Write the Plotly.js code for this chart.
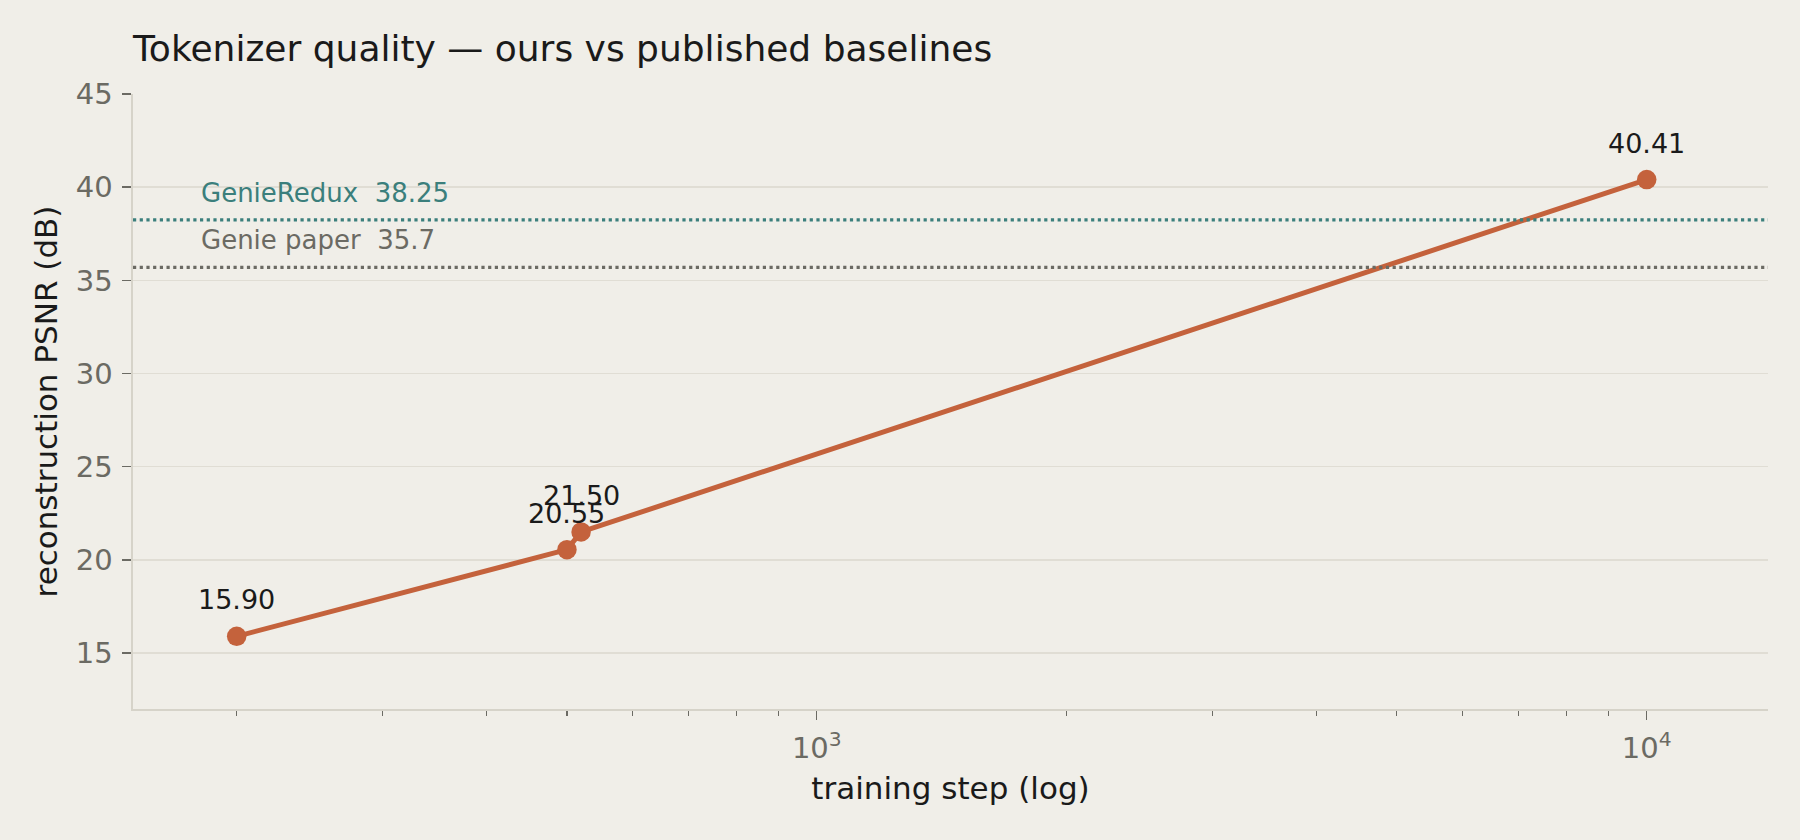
<!DOCTYPE html>
<html>
<head>
<meta charset="utf-8">
<script src="https://cdn.plot.ly/plotly-3.0.1.min.js"></script>
<style>
  html, body { margin: 0; padding: 0; background: #f0eee8; }
  #chart { width: 1800px; height: 840px; }
</style>
</head>
<body>
<div id="chart"></div>
<script>
// tokenizer reconstruction PSNR over training
var steps = [200, 500, 520, 10000];
var psnr = [15.90, 20.55, 21.50, 40.41];

// published reference numbers
var baseNames = ['GenieRedux', 'Genie paper'];
var baseValues = [38.25, 35.7];
var baseColors = ['#3b7f7c', '#6b6a63'];
var baseLabelX = 180;

var xTickVals = [1000, 10000];
var xTickText = ['10<sup>3</sup>', '10<sup>4</sup>'];
var xMinorVals = [200, 300, 400, 500, 600, 700, 800, 900,
                  2000, 3000, 4000, 5000, 6000, 7000, 8000, 9000];
var yTickVals = [15, 20, 25, 30, 35, 40, 45];

var ink = '#1a1a1a';
var muted = '#6b6a63';
var bg = '#f0eee8';

var trace = {
  x: steps,
  y: psnr,
  type: 'scatter',
  mode: 'lines+markers',
  line: {color: '#c4623c', width: 5},
  marker: {color: '#c4623c', size: 19.5, line: {width: 0}},
  hoverinfo: 'none',
  showlegend: false
};

var shapes = baseValues.map(function (v, i) {
  return {
    type: 'line', xref: 'paper', x0: 0, x1: 1, yref: 'y', y0: v, y1: v,
    line: {color: baseColors[i], width: 3.2, dash: '3.2px,3.5px'}
  };
});

var annotations = [];
steps.forEach(function (s, i) {
  annotations.push({
    x: Math.log10(s), y: psnr[i], xref: 'x', yref: 'y',
    text: psnr[i].toFixed(2), showarrow: false,
    xanchor: 'center', yanchor: 'bottom', yshift: 19,
    font: {size: 27, color: ink}
  });
});
baseValues.forEach(function (v, i) {
  annotations.push({
    x: Math.log10(baseLabelX), y: v, xref: 'x', yref: 'y',
    text: baseNames[i] + '\u00a0\u00a0' + String(v), showarrow: false,
    xanchor: 'left', yanchor: 'bottom', yshift: 10,
    font: {size: 26, color: baseColors[i]}
  });
});

var layout = {
  width: 1800,
  height: 840,
  paper_bgcolor: bg,
  plot_bgcolor: bg,
  font: {family: 'DejaVu Sans', color: ink},
  margin: {l: 133, r: 32, t: 94, b: 131},
  title: {
    text: 'Tokenizer quality \u2014 ours vs published baselines',
    font: {size: 36, color: ink},
    xref: 'paper', x: 0, xanchor: 'left',
    yref: 'container', y: 1 - 61 / 840, yanchor: 'bottom'
  },
  xaxis: {
    type: 'log',
    range: [Math.log10(150), Math.log10(14000)],
    tickmode: 'array',
    tickvals: xTickVals,
    ticktext: xTickText,
    ticks: 'outside', ticklen: 9, tickwidth: 1.4, tickcolor: muted,
    ticklabelstandoff: 4,
    tickfont: {size: 29, color: muted},
    minor: {
      tickmode: 'array', tickvals: xMinorVals,
      ticks: 'outside', ticklen: 5, tickwidth: 1.2, tickcolor: muted,
      showgrid: false
    },
    showgrid: false,
    zeroline: false,
    showline: true, linecolor: '#d6d3c9', linewidth: 1.6,
    title: {text: 'training step (log)', font: {size: 31, color: ink}, standoff: 13},
    automargin: false
  },
  yaxis: {
    range: [12, 45],
    tickmode: 'array',
    tickvals: yTickVals,
    ticks: 'outside', ticklen: 9, tickwidth: 1.4, tickcolor: muted,
    ticklabelstandoff: 4,
    tickfont: {size: 29, color: muted},
    showgrid: true, gridcolor: '#e0ddd4', gridwidth: 1.4,
    zeroline: false,
    showline: true, linecolor: '#d6d3c9', linewidth: 1.6,
    title: {text: 'reconstruction PSNR (dB)', font: {size: 31, color: ink}, standoff: 9},
    automargin: false
  },
  shapes: shapes,
  annotations: annotations
};

Plotly.newPlot('chart', [trace], layout, {displayModeBar: false, staticPlot: true});
</script>
</body>
</html>
